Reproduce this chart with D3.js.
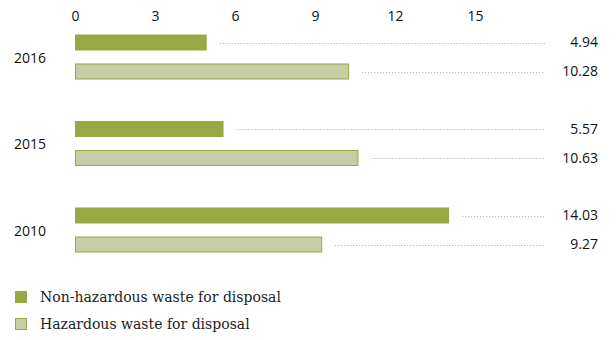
<!DOCTYPE html>
<html><head><meta charset="utf-8">
<script src="https://cdn.jsdelivr.net/npm/d3@7"></script>
<style>body{margin:0;background:#fff}</style>
</head><body>
<svg id="c" width="616" height="340"></svg>
<script>
const years = ["2016", "2015", "2010"];
const nonHazardous = [4.94, 5.57, 14.03];
const hazardous = [10.28, 10.63, 9.27];
const tickValues = [0, 3, 6, 9, 12, 15];
const seriesNames = ["Non-hazardous waste for disposal", "Hazardous waste for disposal"];

const svg = d3.select("#c");
const dark = "#98a944", lightFill = "#c5cea7", lightStroke = "#98a944";
const x = d3.scaleLinear().domain([0, 15]).range([75, 475]);
const y = d3.scaleBand().domain(years).range([28, 287.5]);
const sub = d3.scaleBand().domain([0, 1]).range([0, 58]);
const sans = "'Open Sans', 'Noto Sans', sans-serif";

svg.append("g").attr("transform", "translate(0,21)")
  .call(d3.axisTop(x).tickValues(tickValues).tickSize(0).tickPadding(0))
  .call(g => g.select(".domain").remove())
  .selectAll("text").attr("font-family", sans).attr("font-size", 14).attr("fill", "#111");

const rows = [];
years.forEach((yr, i) => {
  rows.push({yr, k: 0, v: nonHazardous[i]});
  rows.push({yr, k: 1, v: hazardous[i]});
});
const bh = 16;
const rowY = d => y(d.yr) + sub(d.k) + sub.bandwidth() / 2;

svg.selectAll("rect.bar").data(rows).join("rect").attr("class", "bar")
  .attr("x", d => x(0) + (d.k ? 0.5 : 0))
  .attr("y", d => rowY(d) - bh / 2 + (d.k ? 0.5 : 0))
  .attr("width", d => x(d.v) - x(0) - (d.k ? 1 : 0))
  .attr("height", d => bh - (d.k ? 1 : 0))
  .attr("fill", d => d.k ? lightFill : dark)
  .attr("stroke", d => d.k ? lightStroke : "none")
  .attr("stroke-width", 1);

svg.selectAll("line.dot").data(rows).join("line").attr("class", "dot")
  .attr("x1", d => x(d.v) + 13).attr("x2", 545)
  .attr("y1", d => Math.round(rowY(d)) + 0.5).attr("y2", d => Math.round(rowY(d)) + 0.5)
  .attr("stroke", "#aaa").attr("stroke-width", 1).attr("stroke-dasharray", "1,2");

svg.selectAll("text.val").data(rows).join("text").attr("class", "val")
  .attr("x", 598).attr("y", d => rowY(d)).attr("dy", "0.35em")
  .attr("text-anchor", "end").attr("font-family", sans).attr("font-size", 14).attr("fill", "#111")
  .text(d => d.v.toFixed(2));

svg.selectAll("text.yr").data(years).join("text").attr("class", "yr")
  .attr("x", 14).attr("y", d => y(d) + 30).attr("dy", "0.35em")
  .attr("font-family", sans).attr("font-size", 14).attr("fill", "#111")
  .text(d => d);

const lg = svg.selectAll("g.lg").data(seriesNames).join("g").attr("class", "lg")
  .attr("transform", (d, i) => `translate(15,${297 + i * 27})`);
lg.append("rect").attr("x", (d, i) => i ? 0.5 : 0).attr("y", (d, i) => -6 + (i ? 0.5 : 0))
  .attr("width", (d, i) => i ? 11 : 12).attr("height", (d, i) => i ? 11 : 12)
  .attr("fill", (d, i) => i ? lightFill : dark).attr("stroke", (d, i) => i ? lightStroke : "none");
lg.append("text").attr("x", 25).attr("dy", "0.35em")
  .attr("font-family", "'DejaVu Serif', serif").attr("font-size", 14).attr("fill", "#222")
  .text(d => d);
</script>
</body></html>
